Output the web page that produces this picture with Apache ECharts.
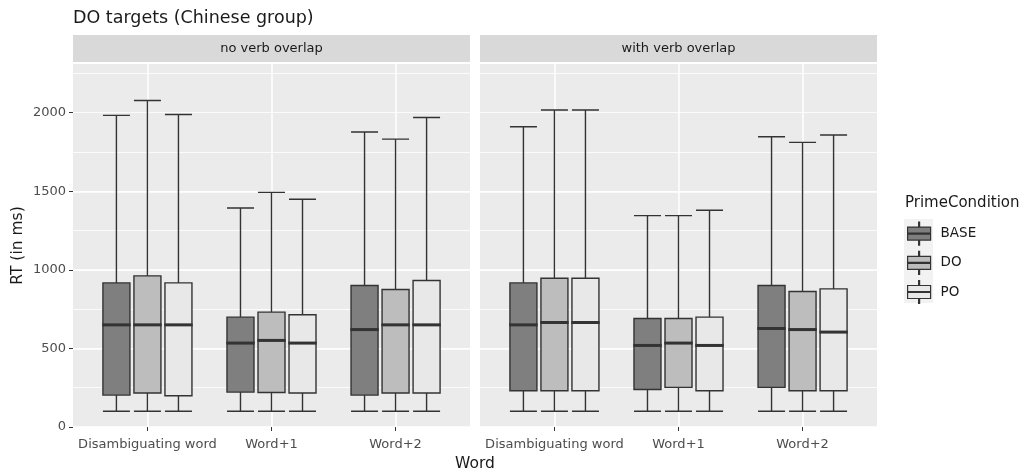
<!DOCTYPE html>
<html><head><meta charset="utf-8">
<script src="https://cdn.jsdelivr.net/npm/echarts@6/dist/echarts.min.js"></script>
<style>html,body{margin:0;padding:0;background:#fff}#c{width:1035px;height:475px}</style>
</head><body><div id="c"></div>
<script>
// ---------------- data ----------------
const categories = ['Disambiguating word', 'Word+1', 'Word+2'];
const panels = ['no verb overlap', 'with verb overlap'];
const conditions = ['BASE', 'DO', 'PO'];
const yTicks = [0, 500, 1000, 1500, 2000];
// each entry: [min, Q1, median, Q3, max] for each category
const noOverlapBASE = [[100, 203, 650, 917, 1983], [100, 222, 534, 699, 1394], [100, 203, 620, 900, 1877]];
const noOverlapDO   = [[100, 216, 650, 962, 2078], [100, 220, 551, 731, 1493], [100, 216, 650, 875, 1832]];
const noOverlapPO   = [[100, 199, 650, 917, 1989], [100, 216, 534, 714, 1449], [100, 216, 650, 932, 1970]];
const withOverlapBASE = [[100, 231, 650, 917, 1911], [100, 239, 519, 690, 1345], [100, 252, 627, 900, 1847]];
const withOverlapDO   = [[100, 231, 665, 947, 2017], [100, 252, 534, 690, 1345], [100, 231, 620, 862, 1811]];
const withOverlapPO   = [[100, 231, 665, 947, 2017], [100, 231, 519, 699, 1379], [100, 231, 604, 879, 1858]];

const panelData = [
  [noOverlapBASE, noOverlapDO, noOverlapPO],
  [withOverlapBASE, withOverlapDO, withOverlapPO]
];

// ---------------- styling / layout ----------------
const FONT = 'DejaVu Sans';
const fills = ['#7F7F7F', '#BDBDBD', '#E8E8E8'];
const LINE = '#333333';
const PANEL_TOP = 64, PANEL_H = 363, PANEL_W = 397;
const panelLefts = [73, 480];
const X_MIN = 0.4, X_MAX = 3.6;          // discrete expansion 0.6
const Y_MIN = 0, Y_MAX = 2310;
const DODGE = 0.25;
const unit = PANEL_W / (X_MAX - X_MIN);

const grids = [], xAxes = [], yAxes = [], series = [], graphics = [];

panelLefts.forEach((left, p) => {
  grids.push({left: left, top: PANEL_TOP, width: PANEL_W, height: PANEL_H, show: true,
    backgroundColor: '#EBEBEB', borderWidth: 0, outerBoundsMode: 'none'});
});
panelLefts.forEach((left, p) => {
  grids.push({left: left + (1 - X_MIN) * unit, top: PANEL_TOP, width: (categories.length - 1) * unit,
    height: PANEL_H, show: false, outerBoundsMode: 'none'});
});

// hidden value x axes (one per series so dodging is done in data space)
panelLefts.forEach((left, p) => {
  conditions.forEach((c, k) => {
    xAxes.push({type: 'value', gridIndex: p, min: X_MIN, max: X_MAX, show: false});
  });
});
// visible category axes (label / gridline axes)
panelLefts.forEach((left, p) => {
  xAxes.push({
    type: 'category', gridIndex: 2 + p, data: categories, boundaryGap: false,
    axisLine: {show: false},
    axisTick: {show: true, length: 4, alignWithLabel: true, lineStyle: {color: LINE, width: 1}},
    axisLabel: {interval: 0, margin: 11, fontSize: 13, fontFamily: FONT, color: '#4D4D4D'},
    splitLine: {show: true, lineStyle: {color: '#FFFFFF', width: 1.5}}
  });
});

panelLefts.forEach((left, p) => {
  yAxes.push({
    type: 'value', gridIndex: p, min: Y_MIN, max: Y_MAX, interval: 500,
    axisLine: {show: false},
    axisTick: {show: p === 0, length: 4, customValues: yTicks, lineStyle: {color: LINE, width: 1}},
    axisLabel: {show: p === 0, customValues: yTicks, margin: 7, fontSize: 13,
      fontFamily: FONT, color: '#4D4D4D', formatter: v => String(v)},
    splitLine: {show: true, showMaxLine: false, lineStyle: {color: '#FFFFFF', width: 1.5}},
    name: p === 0 ? 'RT (in ms)' : '', nameLocation: 'middle', nameGap: 47, nameRotate: 90,
    nameTextStyle: {fontSize: 15.5, fontFamily: FONT, color: '#1A1A1A'}
  });
  yAxes.push({
    type: 'value', gridIndex: p, min: Y_MIN, max: Y_MAX, interval: 250, position: 'left',
    axisLine: {show: false}, axisTick: {show: false}, axisLabel: {show: false},
    splitLine: {show: true, showMaxLine: false, lineStyle: {color: '#FFFFFF', width: 0.8}}
  });
});
panelLefts.forEach((left, p) => {
  yAxes.push({type: 'value', gridIndex: 2 + p, min: Y_MIN, max: Y_MAX, show: false});
});

panelData.forEach((conds, p) => {
  conds.forEach((vals, k) => {
    const xi = p * conditions.length + k;
    series.push({
      name: conditions[k], type: 'boxplot', xAxisIndex: xi, yAxisIndex: p * 2,
      data: vals.map((v, i) => [i + 1 + (k - 1) * DODGE].concat(v)),
      boxWidth: [27, 27],
      itemStyle: {color: fills[k], borderColor: LINE, borderWidth: 1.4},
      emphasis: {disabled: true}, z: 2
    });
    series.push({
      name: conditions[k] + ' median', type: 'scatter', xAxisIndex: xi, yAxisIndex: p * 2,
      data: vals.map((v, i) => [i + 1 + (k - 1) * DODGE, v[2]]),
      symbol: 'rect', symbolSize: [28.4, 3],
      itemStyle: {color: LINE, opacity: 1}, silent: true, z: 3
    });
  });
  // facet strip
  graphics.push({type: 'rect', shape: {x: panelLefts[p], y: 35, width: PANEL_W, height: 27},
    style: {fill: '#D9D9D9'}, silent: true});
  graphics.push({type: 'text', x: panelLefts[p] + PANEL_W / 2, y: 48.5,
    style: {text: panels[p], fill: '#1A1A1A', font: '13px "DejaVu Sans"', textAlign: 'center', textVerticalAlign: 'middle'}});
});

// x-axis title
graphics.push({type: 'text', x: (panelLefts[0] + panelLefts[1] + PANEL_W) / 2, y: 464,
  style: {text: 'Word', fill: '#1A1A1A', font: '15.5px "DejaVu Sans"', textAlign: 'center', textVerticalAlign: 'middle'}});
// legend title + key background
graphics.push({type: 'text', x: 905, y: 203,
  style: {text: 'PrimeCondition', fill: '#1A1A1A', font: '15px "DejaVu Sans"', textAlign: 'left', textVerticalAlign: 'middle'}});
graphics.push({type: 'rect', shape: {x: 904, y: 219, width: 29, height: 84}, style: {fill: '#F2F2F2'}, silent: true, z: -1});

const boxIcon = 'path://M22,0L24,0L24,10L22,10Z M0,10L46,10L46,36L0,36Z M0,22L46,22L46,24L0,24Z M22,36L24,36L24,46L22,46Z';

const option = {
  animation: false,
  backgroundColor: '#FFFFFF',
  title: {text: 'DO targets (Chinese group)', left: 73, top: 9, padding: 0,
    textStyle: {fontFamily: FONT, fontSize: 17.5, fontWeight: 'normal', color: '#1A1A1A'}},
  legend: {
    data: conditions.map((c, k) => ({name: c, icon: boxIcon,
      itemStyle: {color: fills[k], borderColor: LINE, borderWidth: 1.2}})),
    orient: 'vertical', left: 907, top: 221.5, padding: 0,
    itemWidth: 23, itemHeight: 23, itemGap: 5,
    textStyle: {fontFamily: FONT, fontSize: 13.5, color: '#1A1A1A', padding: [0, 0, 0, 5]},
    selectedMode: false
  },
  grid: grids, xAxis: xAxes, yAxis: yAxes, series: series, graphic: graphics
};

const chart = echarts.init(document.getElementById('c'), null, {renderer: 'canvas'});
chart.setOption(option);
</script></body></html>
